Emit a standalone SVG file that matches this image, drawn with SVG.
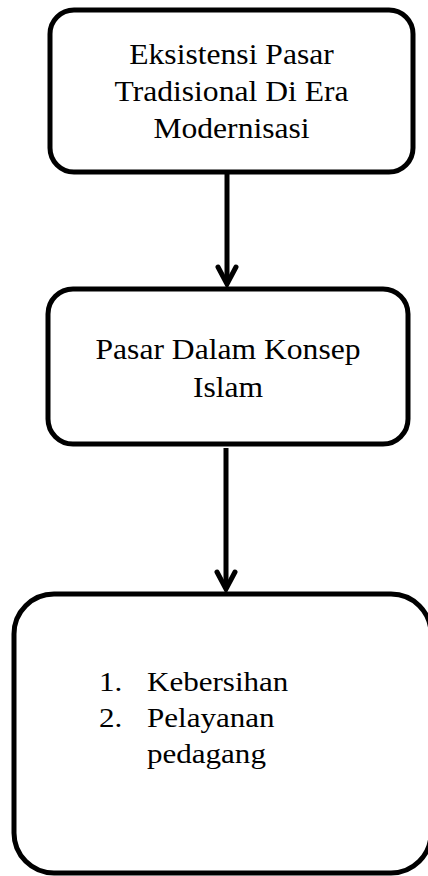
<svg xmlns="http://www.w3.org/2000/svg" width="428" height="876" viewBox="0 0 428 876">
  <style>
    .box { fill: #ffffff; stroke: #000000; stroke-width: 5; }
    .conn { fill: none; stroke: #000000; stroke-width: 5; }
    .lbl { font-family: "Liberation Serif", "Times New Roman", serif; font-size: 29px; fill: #000000; }
    .sm { font-size: 27px; }
    .c { text-anchor: middle; }
  </style>
  <defs>
    <marker id="chev" markerUnits="userSpaceOnUse" viewBox="0 0 24 24" refX="20" refY="12" markerWidth="24" markerHeight="24" orient="auto">
      <path d="M3 3 L20 12 L3 21" fill="none" stroke="#000000" stroke-width="5" stroke-linecap="round" stroke-linejoin="miter"/>
    </marker>
  </defs>
  <rect width="428" height="876" fill="#ffffff"/>
  <g id="connectors">
    <line class="conn" x1="227" y1="174" x2="227" y2="284" marker-end="url(#chev)"/>
    <line class="conn" x1="226" y1="448" x2="226" y2="589" marker-end="url(#chev)"/>
  </g>
  <g id="node1">
    <rect class="box" x="50" y="10" width="363" height="162" rx="24" ry="24"/>
    <g transform="translate(231.5,0) scale(1.09,1)">
      <text class="lbl c" x="0" y="64">Eksistensi Pasar</text>
      <text class="lbl c" x="0" y="101">Tradisional Di Era</text>
      <text class="lbl c" x="0" y="138">Modernisasi</text>
    </g>
  </g>
  <g id="node2">
    <rect class="box" x="48" y="289" width="360" height="155" rx="25" ry="25"/>
    <g transform="translate(228,0) scale(1.09,1)">
      <text class="lbl c" x="0" y="359">Pasar Dalam Konsep</text>
      <text class="lbl c" x="0" y="397">Islam</text>
    </g>
  </g>
  <g id="node3">
    <rect class="box" x="14" y="594" width="417" height="279" rx="40" ry="40"/>
    <g transform="translate(99,0) scale(1.15,1)">
      <text class="lbl sm" x="0" y="691">1.</text>
      <text class="lbl sm" x="0" y="727">2.</text>
    </g>
    <g transform="translate(147,0) scale(1.15,1)">
      <text class="lbl sm" x="0" y="691">Kebersihan</text>
      <text class="lbl sm" x="0" y="727">Pelayanan</text>
      <text class="lbl sm" x="0" y="763">pedagang</text>
    </g>
  </g>
</svg>
